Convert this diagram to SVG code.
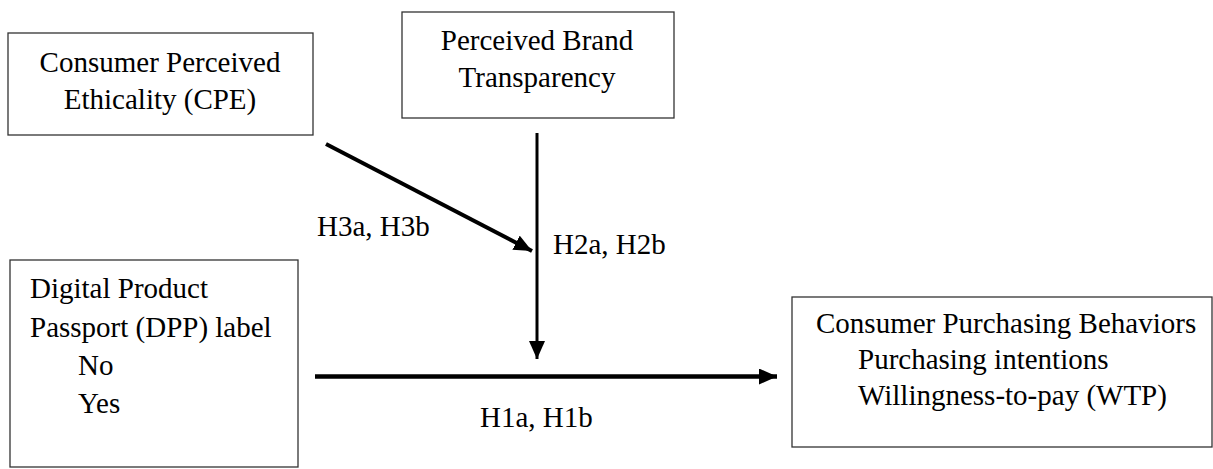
<svg xmlns="http://www.w3.org/2000/svg" width="1213" height="469" viewBox="0 0 1213 469">
  <style>
    .box { fill: #ffffff; stroke: #333333; stroke-width: 1.3; }
    .t { font-family: 'Liberation Serif', 'DejaVu Serif', serif; font-size: 29px; fill: #000000; }
    .c { text-anchor: middle; }
    .edge { stroke: #000000; fill: none; }
  </style>
  <defs>
    <marker id="arrow" markerUnits="userSpaceOnUse" markerWidth="19" markerHeight="17" refX="18" refY="8" orient="auto">
      <path d="M0,0 L18,8 L0,16 z" fill="#000000"/>
    </marker>
  </defs>
  <rect width="1213" height="469" fill="#ffffff"/>

  <g id="cpe" font-family="Liberation Serif, serif">
    <rect class="box" x="8" y="33" width="305" height="102"/>
    <text class="t c" x="160" y="72">Consumer Perceived</text>
    <text class="t c" x="160" y="109">Ethicality (CPE)</text>
  </g>

  <g id="pbt" font-family="Liberation Serif, serif">
    <rect class="box" x="402" y="12" width="272" height="106"/>
    <text class="t c" x="537" y="50">Perceived Brand</text>
    <text class="t c" x="537" y="87">Transparency</text>
  </g>

  <g id="dpp" font-family="Liberation Serif, serif">
    <rect class="box" x="10" y="260" width="288" height="207"/>
    <text class="t" x="30" y="298">Digital Product</text>
    <text class="t" x="30" y="337">Passport (DPP) label</text>
    <text class="t" x="78" y="375">No</text>
    <text class="t" x="78" y="413">Yes</text>
  </g>

  <g id="cpb" font-family="Liberation Serif, serif">
    <rect class="box" x="792" y="297" width="420" height="150"/>
    <text class="t" x="816" y="333">Consumer Purchasing Behaviors</text>
    <text class="t" x="858" y="369">Purchasing intentions</text>
    <text class="t" x="858" y="405">Willingness-to-pay (WTP)</text>
  </g>

  <g id="connectors">
    <line class="edge" x1="326" y1="144" x2="532" y2="251" stroke-width="4" marker-end="url(#arrow)"/>
    <line class="edge" x1="537" y1="133" x2="537" y2="359" stroke-width="3" marker-end="url(#arrow)"/>
    <line class="edge" x1="315" y1="376.5" x2="777" y2="376.5" stroke-width="4.5" marker-end="url(#arrow)"/>
  </g>

  <g id="labels" font-family="Liberation Serif, serif">
    <text class="t" x="317" y="236">H3a, H3b</text>
    <text class="t" x="553" y="254">H2a, H2b</text>
    <text class="t" x="480" y="427">H1a, H1b</text>
  </g>
</svg>
